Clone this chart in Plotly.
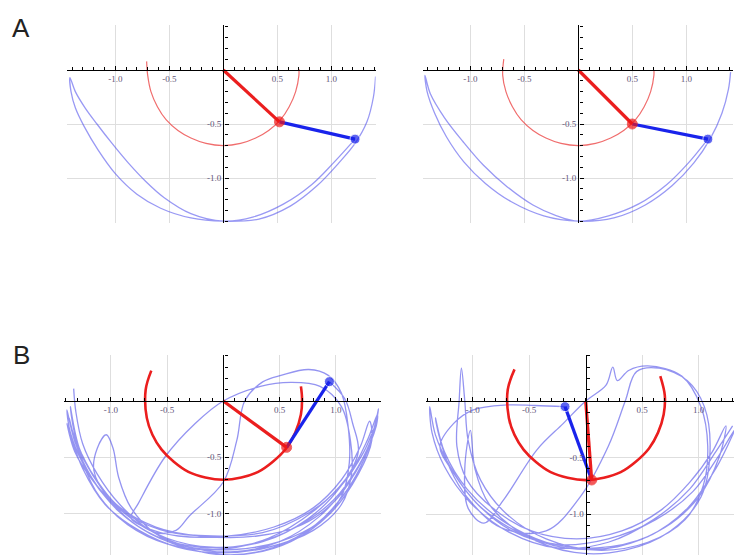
import plotly.graph_objects as go

W, H = 734, 555

# ---------------- data ----------------
# Panel A-left
a1_trail_x = [1.41, 1.39, 1.33, 1.22, 1.07, 0.87, 0.62, 0.33, 0.0,
              -0.30, -0.58, -0.80, -1.00, -1.16, -1.29, -1.37, -1.41, -1.42,
              -1.37, -1.28, -1.17, -1.03, -0.88, -0.72, -0.55, -0.30, 0.0,
              0.28, 0.56, 0.82, 1.02, 1.22]
a1_trail_y = [-0.06, -0.25, -0.48, -0.68, -0.86, -1.07, -1.26, -1.38, -1.40,
              -1.37, -1.28, -1.15, -0.96, -0.74, -0.52, -0.35, -0.20, -0.07,
              -0.20, -0.35, -0.50, -0.68, -0.86, -1.03, -1.18, -1.33, -1.40,
              -1.36, -1.24, -1.06, -0.86, -0.64]
a1_arc_x = [-0.71, -0.70, -0.67, -0.61, -0.53, -0.42, -0.30, -0.16, 0.0,
            0.16, 0.30, 0.42, 0.53, 0.61, 0.67, 0.70, 0.70]
a1_arc_y = [0.08, -0.05, -0.20, -0.34, -0.46, -0.56, -0.63, -0.68, -0.70,
            -0.68, -0.63, -0.56, -0.46, -0.34, -0.20, -0.05, 0.01]
a1_rod_x = [0.0, 0.52, 1.22]
a1_rod_y = [0.0, -0.48, -0.64]

# Panel A-right
a2_trail_x = [1.41, 1.39, 1.33, 1.22, 1.07, 0.87, 0.62, 0.33, 0.0,
              -0.32, -0.62, -0.86, -1.06, -1.22, -1.33, -1.40, -1.42,
              -1.37, -1.24, -1.07, -0.88, -0.66, -0.42, -0.20, 0.0,
              0.28, 0.56, 0.82, 1.02, 1.20]
a2_trail_y = [-0.02, -0.18, -0.40, -0.64, -0.86, -1.07, -1.25, -1.37, -1.40,
              -1.35, -1.22, -1.05, -0.85, -0.62, -0.40, -0.20, -0.05,
              -0.22, -0.44, -0.66, -0.88, -1.08, -1.25, -1.35, -1.40,
              -1.35, -1.24, -1.06, -0.86, -0.64]
a2_arc_x = [-0.69, -0.70, -0.67, -0.61, -0.53, -0.42, -0.30, -0.16, 0.0,
            0.16, 0.30, 0.42, 0.53, 0.61, 0.67, 0.70, 0.70]
a2_arc_y = [0.10, -0.05, -0.20, -0.34, -0.46, -0.56, -0.63, -0.68, -0.70,
            -0.68, -0.63, -0.56, -0.46, -0.34, -0.20, -0.05, 0.0]
a2_rod_x = [0.0, 0.50, 1.20]
a2_rod_y = [0.0, -0.50, -0.64]

# Panel B-left
b1_trail_x = [-1.33, -1.31, -1.25, -1.12, -0.92, -0.65, -0.30, 0.10, 0.50, 0.85, 1.12, 1.30, 1.38,
              1.33, 1.20, 0.98, 0.65, 0.25, -0.20, -0.60, -0.93, -1.17, -1.32, -1.39,
              -1.36, -1.25, -1.05, -0.75, -0.35, 0.05, 0.45, 0.82, 1.08, 1.26, 1.35,
              1.25, 1.05, 0.75, 0.35, -0.10, -0.50, -0.80, -1.02, -1.15, -1.12, -1.04, -0.98, -0.93, -0.82,
              -0.60, -0.25, 0.20, 0.60, 0.95, 1.20, 1.32, 1.30,
              1.22, 1.05, 0.80, 0.45, 0.05, -0.40, -0.70, -0.82,
              -0.755, -0.52, -0.25, 0.0, 0.33, 0.60, 0.86, 1.05, 1.13, 1.14, 1.05, 0.80, 0.40, 0.0,
              -0.40, -0.75, -1.05, -1.25, -1.36, -1.39,
              -1.32, -1.15, -0.90, -0.60, -0.42, -0.30, 0.0, 0.12, 0.19, 0.35, 0.52, 0.76, 0.93,
              1.05, 1.11, 1.12, 1.05, 0.85, 0.50, 0.10, -0.30, -0.65, -0.95, -1.18, -1.33, -1.37,
              -1.30, -1.18, -0.95, -0.60, -0.20, 0.30, 0.70, 1.00, 1.22, 1.36, 1.37,
              1.28, 1.10, 0.80, 0.40, -0.05, -0.50, -0.85, -1.10, -1.25, -1.33, -1.36,
              -1.28, -1.10, -0.85, -0.50, -0.10, 0.35, 0.75, 1.05, 1.20, 1.15, 1.08, 0.943]
b1_trail_y = [0.11, -0.10, -0.38, -0.65, -0.92, -1.15, -1.30, -1.34, -1.25, -1.03, -0.72, -0.38, -0.07,
              -0.30, -0.58, -0.88, -1.12, -1.27, -1.30, -1.20, -0.98, -0.68, -0.36, -0.08,
              -0.28, -0.55, -0.85, -1.12, -1.30, -1.37, -1.30, -1.10, -0.82, -0.50, -0.22,
              -0.45, -0.75, -1.00, -1.17, -1.20, -1.16, -1.04, -0.86, -0.62, -0.42, -0.30, -0.42, -0.68, -0.95,
              -1.18, -1.33, -1.36, -1.25, -1.00, -0.65, -0.35, -0.18,
              -0.40, -0.70, -0.95, -1.12, -1.20, -1.20, -1.12, -1.04,
              -0.91, -0.50, -0.20, 0.0, 0.13, 0.165, 0.13, -0.05, -0.35, -0.65, -0.92, -1.15, -1.30, -1.35,
              -1.30, -1.15, -0.92, -0.60, -0.30, -0.20,
              -0.45, -0.72, -0.98, -1.17, -1.15, -1.02, -0.72, -0.35, 0.0, 0.17, 0.23, 0.28, 0.23,
              0.07, -0.23, -0.55, -0.85, -1.08, -1.25, -1.32, -1.30, -1.18, -0.95, -0.62, -0.30, -0.15,
              -0.40, -0.62, -0.92, -1.12, -1.20, -1.20, -1.10, -0.88, -0.55, -0.22, -0.12,
              -0.35, -0.68, -0.98, -1.22, -1.32, -1.27, -1.10, -0.85, -0.55, -0.25, -0.05,
              -0.42, -0.75, -1.02, -1.22, -1.30, -1.25, -1.05, -0.75, -0.45, -0.20, 0.02, 0.172]
b1_arc_x = [-0.64, -0.69, -0.68, -0.63, -0.55, -0.44, -0.31, -0.16, 0.0,
            0.16, 0.31, 0.44, 0.56, 0.64, 0.69, 0.70, 0.69]
b1_arc_y = [0.27, 0.10, -0.15, -0.30, -0.43, -0.54, -0.63, -0.68, -0.70,
            -0.68, -0.63, -0.54, -0.42, -0.28, -0.12, 0.02, 0.13]
b1_rod_x = [0.0, 0.563, 0.943]
b1_rod_y = [0.0, -0.412, 0.172]

# Panel B-right
b2_trail_x = [1.30, 1.15, 0.92, 0.60, 0.20, -0.25, -0.68, -1.02, -1.25, -1.36, -1.38,
              -1.33, -1.20, -0.97, -0.62, -0.18, 0.28, 0.70, 1.00, 1.18, 1.24,
              1.12, 0.92, 0.66, 0.32, -0.08, -0.48, -0.82, -1.05, -1.14, -1.12, -1.10, -1.07, -1.04,
              -0.93, -0.70, -0.35, 0.10, 0.55, 0.88, 1.04, 1.08, 1.02, 0.85, 0.55, 0.38, 0.28, 0.24,
              0.18, 0.0, -0.20, -0.43, -0.73, -0.90, -1.04, -1.07, -1.02, -0.98, -0.85, -0.55,
              -0.10, 0.35, 0.75, 1.02, 1.10, 1.05, 0.90, 0.65, 0.45, 0.35, 0.20, -0.05, -0.35,
              -0.75, -1.05, -1.20, -1.30, -1.33,
              -1.25, -1.05, -0.75, -0.35, 0.10, 0.55, 0.90, 1.15, 1.30, 1.32,
              1.18, 0.95, 0.62, 0.20, -0.25, -0.65, -0.95, -1.18,
              -1.29, -1.17, -1.00, -0.70, -0.45, -0.183]
b2_trail_y = [-0.22, -0.45, -0.78, -1.05, -1.25, -1.30, -1.16, -0.90, -0.58, -0.28, -0.05,
              -0.30, -0.58, -0.90, -1.15, -1.30, -1.29, -1.12, -0.85, -0.50, -0.22,
              -0.45, -0.72, -0.97, -1.15, -1.22, -1.15, -0.95, -0.70, -0.40, 0.0, 0.29, 0.0, -0.35,
              -0.70, -1.00, -1.22, -1.32, -1.25, -1.05, -0.75, -0.40, -0.05, 0.22, 0.31, 0.27, 0.18, 0.30,
              0.14, 0.0, -0.20, -0.43, -0.88, -1.08, -0.95, -0.60, -0.26, -0.60, -0.92, -1.18,
              -1.34, -1.32, -1.15, -0.85, -0.45, -0.05, 0.18, 0.29, 0.26, 0.0, -0.40, -0.85, -1.15,
              -1.12, -0.85, -0.60, -0.30, -0.15,
              -0.45, -0.78, -1.05, -1.25, -1.30, -1.20, -0.95, -0.60, -0.30, -0.25,
              -0.48, -0.80, -1.05, -1.22, -1.27, -1.15, -0.92, -0.62,
              -0.40, -0.20, -0.08, -0.035, -0.04, -0.05]
b2_arc_x = [-0.63, -0.69, -0.68, -0.63, -0.55, -0.44, -0.31, -0.16, 0.0,
            0.16, 0.31, 0.44, 0.56, 0.64, 0.69, 0.70, 0.66]
b2_arc_y = [0.28, 0.10, -0.15, -0.30, -0.43, -0.54, -0.63, -0.68, -0.70,
            -0.68, -0.63, -0.54, -0.42, -0.28, -0.12, 0.05, 0.22]
b2_rod_x = [0.0, 0.053, -0.183]
b2_rod_y = [0.0, -0.699, -0.05]

major_vals_x = [-1.0, -0.5, 0.5, 1.0]
major_text_x = ["-1.0", "-0.5", "0.5", "1.0"]
major_vals_y = [-1.0, -0.5]
major_text_y = ["-1.0", "-0.5"]

# ---------------- layout of panels (pixel geometry) ----------------
panels = [
    dict(x0=223.3, y0=70, s=108, xr=[-1.45, 1.41], yr=[-1.42, 0.42],
         tx=a1_trail_x, ty=a1_trail_y, ax=a1_arc_x, ay=a1_arc_y, rx=a1_rod_x, ry=a1_rod_y, big=False),
    dict(x0=578.3, y0=70, s=108, xr=[-1.44, 1.43], yr=[-1.42, 0.42],
         tx=a2_trail_x, ty=a2_trail_y, ax=a2_arc_x, ay=a2_arc_y, rx=a2_rod_x, ry=a2_rod_y, big=False),
    dict(x0=223.3, y0=401, s=112.5, xr=[-1.42, 1.40], yr=[-(H - 401) / 112.5, 0.41],
         tx=b1_trail_x, ty=b1_trail_y, ax=b1_arc_x, ay=b1_arc_y, rx=b1_rod_x, ry=b1_rod_y, big=True),
    dict(x0=585.7, y0=401, s=113, xr=[-1.41, (W - 585.7) / 113], yr=[-(H - 401) / 113, 0.41],
         tx=b2_trail_x, ty=b2_trail_y, ax=b2_arc_x, ay=b2_arc_y, rx=b2_rod_x, ry=b2_rod_y, big=True),
]

fig = go.Figure()
layout = {}
tickfont = dict(family="Liberation Serif, DejaVu Serif, serif", size=9, color="#5e5478")

for i, p in enumerate(panels, start=1):
    sfx = "" if i == 1 else str(i)
    xa, ya = "x" + sfx, "y" + sfx
    xd = [max(0, (p["x0"] + p["xr"][0] * p["s"]) / W), min(1, (p["x0"] + p["xr"][1] * p["s"]) / W)]
    yd = [max(0, (H - (p["y0"] - p["yr"][0] * p["s"])) / H), min(1, (H - (p["y0"] - p["yr"][1] * p["s"])) / H)]
    layout["xaxis" + sfx] = dict(
        domain=xd, range=p["xr"], anchor="free", position=(H - p["y0"]) / H,
        showline=True, linecolor="black", linewidth=1.4, zeroline=False,
        tickvals=major_vals_x, ticktext=major_text_x, ticks="inside", ticklen=4,
        tickcolor="black", tickwidth=1, tickfont=tickfont,
        showgrid=True, gridcolor="#dedede", gridwidth=1,
        minor=dict(dtick=0.1, tick0=0, ticks="inside", ticklen=3, tickcolor="black", showgrid=False),
        fixedrange=True,
    )
    layout["yaxis" + sfx] = dict(
        domain=yd, range=p["yr"], anchor="free", position=p["x0"] / W,
        showline=True, linecolor="black", linewidth=1.4, zeroline=False,
        tickvals=major_vals_y, ticktext=major_text_y, ticks="inside", ticklen=4,
        tickcolor="black", tickwidth=1, tickfont=tickfont,
        showgrid=True, gridcolor="#dedede", gridwidth=1,
        minor=dict(dtick=0.1, tick0=0, ticks="inside", ticklen=3, tickcolor="black", showgrid=False),
        fixedrange=True,
    )
    trail_col = "rgba(70,70,235,0.55)" if not p["big"] else "rgba(60,60,230,0.55)"
    fig.add_trace(go.Scatter(x=p["tx"], y=p["ty"], mode="lines", xaxis=xa, yaxis=ya,
                             line=dict(color=trail_col, width=1.3, shape="spline", smoothing=1.0),
                             hoverinfo="skip", showlegend=False))
    arc_col = "rgba(235,60,60,0.75)" if not p["big"] else "rgb(235,30,30)"
    arc_w = 1.2 if not p["big"] else 2.6
    fig.add_trace(go.Scatter(x=p["ax"], y=p["ay"], mode="lines", xaxis=xa, yaxis=ya,
                             line=dict(color=arc_col, width=arc_w, shape="spline", smoothing=1.0),
                             hoverinfo="skip", showlegend=False))
    # rods
    fig.add_trace(go.Scatter(x=p["rx"][1:], y=p["ry"][1:], mode="lines+markers", xaxis=xa, yaxis=ya,
                             line=dict(color="rgb(25,35,235)", width=3.2),
                             marker=dict(color="rgb(25,35,235)", size=[0, 10]),
                             hoverinfo="skip", showlegend=False))
    fig.add_trace(go.Scatter(x=p["rx"][:2], y=p["ry"][:2], mode="lines+markers", xaxis=xa, yaxis=ya,
                             line=dict(color="rgb(235,30,30)", width=3.2),
                             marker=dict(color="rgb(240,20,20)", size=[0, 10]),
                             hoverinfo="skip", showlegend=False))

layout.update(
    width=W, height=H, margin=dict(l=0, r=0, t=0, b=0),
    paper_bgcolor="white", plot_bgcolor="white", showlegend=False,
    annotations=[
        dict(text="A", x=21 / W, y=1 - 28 / H, xref="paper", yref="paper", showarrow=False,
             xanchor="center", yanchor="middle",
             font=dict(family="Liberation Sans, Arial, sans-serif", size=26, color="#222")),
        dict(text="B", x=21 / W, y=1 - 355 / H, xref="paper", yref="paper", showarrow=False,
             xanchor="center", yanchor="middle",
             font=dict(family="Liberation Sans, Arial, sans-serif", size=26, color="#222")),
    ],
)
fig.update_layout(**layout)
fig.write_html("out.html", config={"displayModeBar": False},
               post_script="document.body.style.margin='0px';")
